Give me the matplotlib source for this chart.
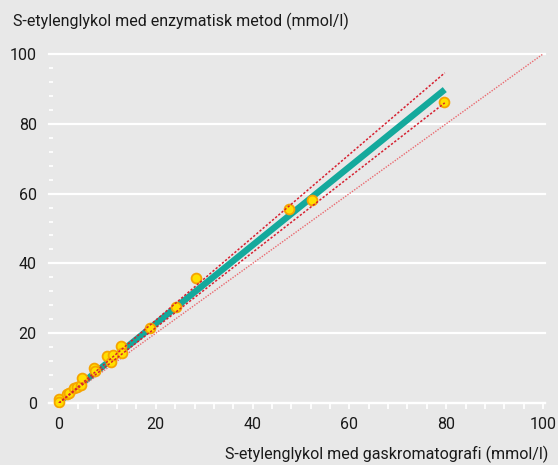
import matplotlib
matplotlib.use("Agg")
import matplotlib.pyplot as plt
import numpy as np

# ---- data ----
gc_x = [0.0, 0.1, 1.6, 2.1, 3.0, 3.7, 4.5, 4.7, 7.3, 7.5, 9.9, 10.8, 11.2, 12.8, 13.0,
        18.8, 24.2, 28.4, 47.6, 52.2, 79.5]
enz_y = [1.2, 0.4, 2.5, 3.0, 4.2, 4.7, 5.2, 7.3, 9.9, 9.3, 13.6, 11.8, 13.8, 16.3, 14.2,
         21.5, 27.6, 35.8, 55.6, 58.3, 86.3]

fit_x = [0, 79.7]
fit_y = [0.3, 89.8]
upper_x = [0, 79.7]
upper_y = [0.0, 94.6]
lower_x = [0, 79.7]
lower_y = [0.0, 86.0]
ident_x = [0, 100]
ident_y = [0, 100]

xticks = [0, 20, 40, 60, 80, 100]
yticks = [0, 20, 40, 60, 80, 100]

title = "S-etylenglykol med enzymatisk metod (mmol/l)"
xlabel = "S-etylenglykol med gaskromatografi (mmol/l)"

plt.rcParams['font.family'] = ['Roboto', 'DejaVu Sans']

BG = '#e8e8e8'
W, H = 558, 465
fig = plt.figure(figsize=(W / 100, H / 100), dpi=100, facecolor=BG)

# axes placement in pixels
x0_px, x_per = 59.0, 4.84
y0_px, y_per = 403.0, 3.49
xlim = (-2.0, 100.5)
ylim = (0.0, 101.0)
left = x0_px + xlim[0] * x_per
right = x0_px + xlim[1] * x_per
bottom = y0_px - ylim[0] * y_per
top = y0_px - ylim[1] * y_per
ax = fig.add_axes([left / W, 1 - bottom / H, (right - left) / W, (bottom - top) / H])
ax.set_facecolor(BG)
ax.set_xlim(*xlim)
ax.set_ylim(*ylim)

for s in ['top', 'right', 'left']:
    ax.spines[s].set_visible(False)
ax.spines['bottom'].set_color('white')
ax.spines['bottom'].set_linewidth(1.6)

# horizontal gridlines
for yv in yticks:
    ax.axhline(yv, color='white', lw=1.6, zorder=0, clip_on=False)

ax.set_xticks(xticks)
ax.set_xticks(np.arange(0, 101, 4), minor=True)
ax.set_yticks(yticks)
ax.set_yticks(np.arange(0, 101, 4), minor=True)

ax.tick_params(axis='x', which='both', direction='out', length=4, width=1.3,
               color='white', pad=6, labelsize=11.5, labelcolor='#1a1a1a')
ax.tick_params(axis='y', which='both', direction='in', length=3, width=1.3,
               color='white', pad=9, labelsize=11.5, labelcolor='#1a1a1a')

# identity line
ax.plot(ident_x, ident_y, color='#ea6a70', lw=1.0, ls=(0, (1, 1)), zorder=3, clip_on=False)
# regression line
ax.plot(fit_x, fit_y, color='#14a99c', lw=4.6, solid_capstyle='butt', zorder=2)
# points
ax.scatter(gc_x, enz_y, s=50, facecolor='#ffe000', edgecolor='#f6a400', linewidth=1.3,
           zorder=4, clip_on=False)
# confidence band lines
ax.plot(upper_x, upper_y, color='#d62030', lw=1.1, ls=(0, (1.5, 1.2)), zorder=5)
ax.plot(lower_x, lower_y, color='#d62030', lw=1.1, ls=(0, (1.5, 1.2)), zorder=5)

fig.text(13 / W, 1 - 21 / H, title, ha='left', va='center', fontsize=11.5, color='#1a1a1a')
fig.text(548 / W, 1 - 454 / H, xlabel, ha='right', va='center', fontsize=11.5, color='#1a1a1a')

fig.savefig('out.png', dpi=100, facecolor=BG)
